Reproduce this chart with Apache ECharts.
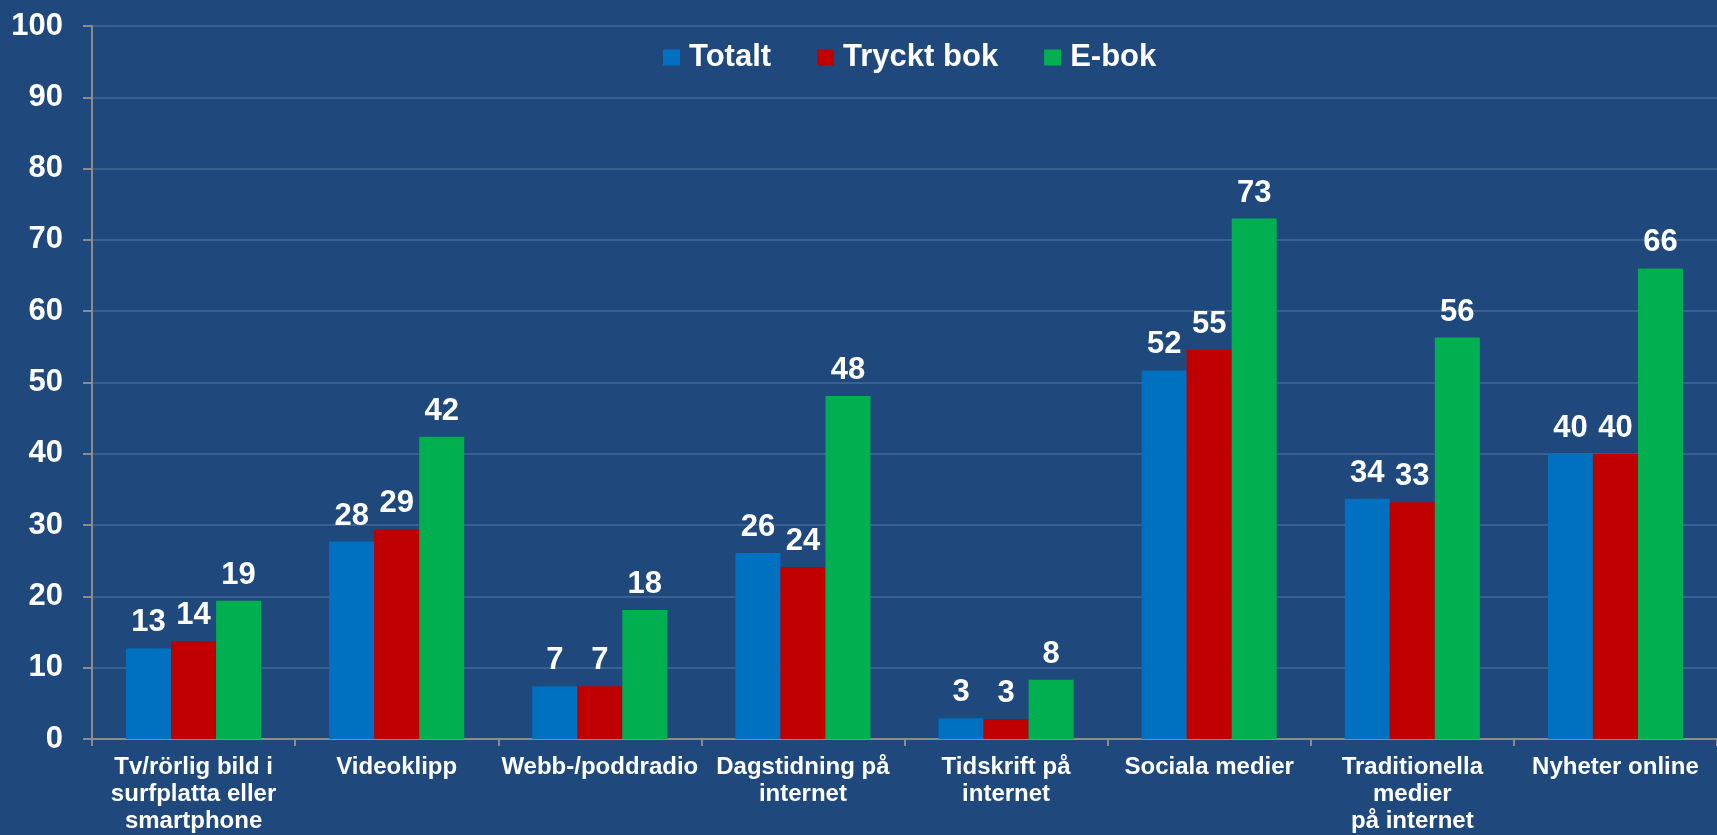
<!DOCTYPE html>
<html>
<head>
<meta charset="utf-8">
<script src="https://cdn.jsdelivr.net/npm/echarts@6/dist/echarts.min.js"></script>
<style>
html,body{margin:0;padding:0;background:#1F497D;}
#c{width:1717px;height:835px;}
</style>
</head>
<body>
<div id="c"></div>
<script>
const categories = ["Tv/rörlig bild i\nsurfplatta eller\nsmartphone", "Videoklipp", "Webb-/poddradio", "Dagstidning på\ninternet", "Tidskrift på\ninternet", "Sociala medier", "Traditionella\nmedier\npå internet", "Nyheter online"];
const seriesNames = ["Totalt", "Tryckt bok", "E-bok"];
const totalt = [12.7, 27.7, 7.4, 26.1, 2.9, 51.7, 33.7, 40.0];
const trycktBok = [13.7, 29.4, 7.4, 24.1, 2.8, 54.6, 33.2, 40.0];
const eBok = [19.4, 42.4, 18.1, 48.1, 8.3, 73.0, 56.3, 66.0];
const yTicks = { min: 0, max: 100, interval: 10 };

const colors = ["#0070C0", "#C00000", "#00B050"];
const font = "'Liberation Sans', Arial, sans-serif";
const chart = echarts.init(document.getElementById('c'), null, {renderer: 'canvas'});
const dataSets = [totalt, trycktBok, eBok];
chart.setOption({
  backgroundColor: '#1F497D',
  animation: false,
  textStyle: { fontFamily: font },
  legend: {
    data: seriesNames,
    left: 658, top: 37,
    itemWidth: 17, itemHeight: 16, itemGap: 46,
    icon: 'rect',
    textStyle: { color: '#fff', fontSize: 31, fontWeight: 'bold', fontFamily: font, padding: [0,0,0,4] }
  },
  grid: { left: 92, top: 26, width: 1634, height: 713.5 },
  xAxis: {
    type: 'category',
    data: categories,
    axisLine: { lineStyle: { color: '#8C8C8C', width: 2 } },
    axisTick: { show: true, length: 7, lineStyle: { color: '#8C8C8C', width: 2 } },
    axisLabel: { color: '#fff', fontSize: 24, fontWeight: 'bold', fontFamily: font, lineHeight: 27, margin: 15, interval: 0 }
  },
  yAxis: {
    type: 'value', min: yTicks.min, max: yTicks.max, interval: yTicks.interval,
    axisLine: { show: true, lineStyle: { color: '#8C8C8C', width: 2 } },
    axisTick: { show: true, length: 9, lineStyle: { color: '#8C8C8C', width: 2 } },
    axisLabel: { color: '#fff', fontSize: 31, fontWeight: 'bold', fontFamily: font, margin: 29 },
    splitLine: { lineStyle: { color: '#3A6090', width: 2 } }
  },
  series: seriesNames.map((n, i) => ({
    name: n, type: 'bar', data: dataSets[i],
    barGap: '0%', barCategoryGap: '33.5%',
    itemStyle: { color: colors[i] },
    label: {
      show: true, position: 'top', distance: 10,
      color: '#fff', fontSize: 31, fontWeight: 'bold', fontFamily: font,
      formatter: p => Math.round(p.value)
    }
  }))
});
</script>
</body>
</html>
